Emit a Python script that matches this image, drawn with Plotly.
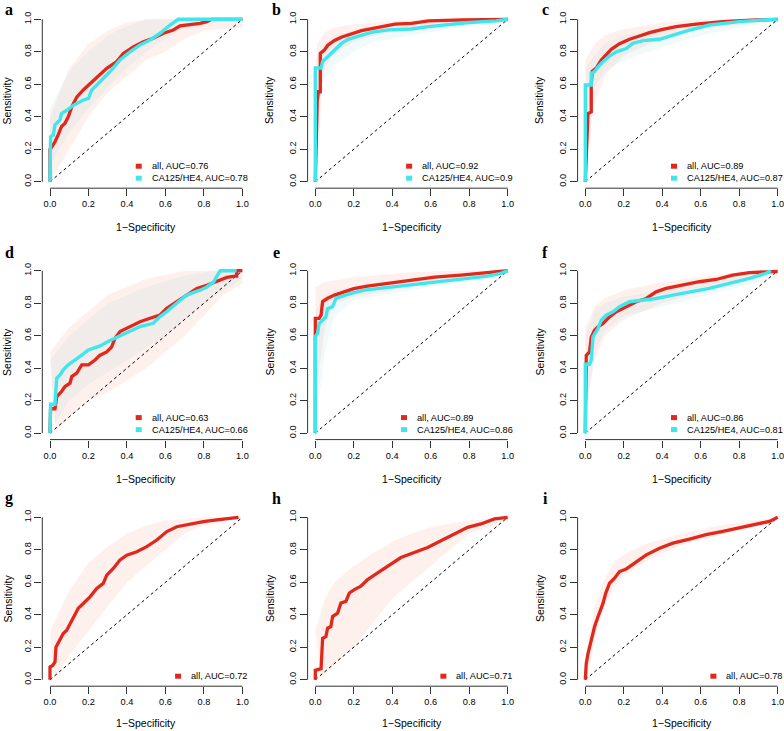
import plotly.graph_objects as go

# ---------------- data ----------------
panel_letters = ["a", "b", "c", "d", "e", "f", "g", "h", "i"]
x_tick_vals = [0, 0.2, 0.4, 0.6, 0.8, 1.0]
x_tick_text = ["0.0", "0.2", "0.4", "0.6", "0.8", "1.0"]
diag = [0, 1]

auc_all = [0.76, 0.92, 0.89, 0.63, 0.89, 0.86, 0.72, 0.71, 0.78]
auc_ca = [0.78, 0.9, 0.87, 0.66, 0.86, 0.81, None, None, None]

# main curves (1-specificity, sensitivity)
a_all_fpr = [0, 0, 0.01, 0.026, 0.043, 0.06, 0.078, 0.095, 0.113, 0.139, 0.173, 0.2, 0.243, 0.295, 0.347, 0.381, 0.433, 0.485, 0.537, 0.589, 0.641, 0.676, 0.78, 0.815, 0.84, 1.0]
a_all_tpr = [0, 0.2, 0.215, 0.246, 0.29, 0.34, 0.36, 0.4, 0.46, 0.52, 0.565, 0.595, 0.637, 0.698, 0.74, 0.79, 0.83, 0.862, 0.883, 0.914, 0.934, 0.959, 0.975, 0.986, 1.0, 1.0]
a_ca_fpr = [0, 0, 0.003, 0.017, 0.026, 0.052, 0.06, 0.087, 0.121, 0.173, 0.2, 0.217, 0.26, 0.312, 0.364, 0.416, 0.468, 0.52, 0.572, 0.624, 0.667, 1.0]
a_ca_tpr = [0, 0.154, 0.277, 0.287, 0.35, 0.38, 0.42, 0.44, 0.47, 0.503, 0.513, 0.565, 0.616, 0.678, 0.75, 0.8, 0.842, 0.873, 0.914, 0.965, 1.0, 1.0]

b_all_fpr = [0, 0.01, 0.016, 0.026, 0.026, 0.047, 0.065, 0.1, 0.135, 0.187, 0.24, 0.327, 0.414, 0.5, 0.589, 0.764, 0.9, 1.0]
b_all_tpr = [0, 0.5, 0.554, 0.554, 0.79, 0.81, 0.84, 0.87, 0.89, 0.91, 0.93, 0.95, 0.97, 0.975, 0.99, 0.996, 1.0, 1.0]
b_ca_fpr = [0, 0, 0.03, 0.038, 0.065, 0.1, 0.135, 0.17, 0.24, 0.29, 0.38, 0.5, 0.59, 0.694, 0.8, 0.94, 1.0]
b_ca_tpr = [0, 0.7, 0.7, 0.74, 0.77, 0.81, 0.85, 0.877, 0.9, 0.92, 0.935, 0.94, 0.955, 0.97, 0.98, 0.99, 1.0]

c_all_fpr = [0, 0.01, 0.014, 0.031, 0.031, 0.036, 0.057, 0.083, 0.109, 0.135, 0.178, 0.23, 0.282, 0.334, 0.403, 0.472, 0.576, 0.715, 0.888, 1.0]
c_all_tpr = [0, 0.4, 0.42, 0.43, 0.6, 0.68, 0.70, 0.75, 0.78, 0.815, 0.85, 0.877, 0.897, 0.918, 0.938, 0.955, 0.97, 0.986, 0.996, 1.0]
c_ca_fpr = [0, 0, 0.031, 0.031, 0.048, 0.066, 0.092, 0.126, 0.161, 0.213, 0.247, 0.3, 0.386, 0.455, 0.542, 0.645, 0.8, 0.922, 1.0]
c_ca_tpr = [0, 0.595, 0.595, 0.667, 0.678, 0.708, 0.739, 0.774, 0.8, 0.82, 0.852, 0.869, 0.877, 0.903, 0.934, 0.965, 0.986, 0.996, 1.0]

d_all_fpr = [0, 0.003, 0.026, 0.035, 0.06, 0.078, 0.104, 0.113, 0.139, 0.165, 0.2, 0.234, 0.26, 0.295, 0.32, 0.338, 0.364, 0.399, 0.433, 0.468, 0.52, 0.572, 0.607, 0.659, 0.71, 0.763, 0.815, 0.867, 0.919, 0.962, 0.97, 0.97, 1.0]
d_all_tpr = [0, 0.15, 0.15, 0.225, 0.256, 0.287, 0.307, 0.348, 0.369, 0.42, 0.42, 0.45, 0.48, 0.5, 0.53, 0.584, 0.625, 0.645, 0.666, 0.686, 0.707, 0.727, 0.768, 0.81, 0.85, 0.891, 0.91, 0.932, 0.959, 0.967, 0.967, 1.0, 1.0]
d_ca_fpr = [0, 0, 0.003, 0.026, 0.035, 0.052, 0.069, 0.095, 0.121, 0.165, 0.2, 0.26, 0.312, 0.399, 0.468, 0.537, 0.572, 0.607, 0.659, 0.71, 0.78, 0.815, 0.85, 0.884, 0.97]
d_ca_tpr = [0, 0.133, 0.178, 0.178, 0.338, 0.358, 0.389, 0.42, 0.44, 0.48, 0.512, 0.537, 0.57, 0.615, 0.656, 0.676, 0.717, 0.748, 0.8, 0.85, 0.88, 0.9, 0.93, 1.0, 1.0]

e_all_fpr = [0, 0, 0.02, 0.03, 0.038, 0.064, 0.1, 0.15, 0.2, 0.27, 0.376, 0.497, 0.62, 0.757, 0.896, 0.965, 1.0]
e_all_tpr = [0, 0.706, 0.706, 0.726, 0.81, 0.83, 0.85, 0.87, 0.89, 0.905, 0.922, 0.942, 0.96, 0.973, 0.988, 1.0, 1.0]
e_ca_fpr = [0, 0, 0.012, 0.02, 0.038, 0.055, 0.064, 0.09, 0.107, 0.133, 0.185, 0.255, 0.376, 0.497, 0.636, 0.757, 0.896, 0.965, 1.0]
e_ca_tpr = [0, 0.593, 0.613, 0.675, 0.695, 0.716, 0.767, 0.778, 0.829, 0.84, 0.86, 0.88, 0.897, 0.91, 0.932, 0.946, 0.967, 0.984, 1.0]

f_all_fpr = [0, 0.003, 0.005, 0.022, 0.031, 0.048, 0.066, 0.092, 0.126, 0.161, 0.213, 0.265, 0.317, 0.368, 0.42, 0.507, 0.593, 0.68, 0.766, 0.853, 0.922, 1.0]
f_all_tpr = [0, 0.45, 0.479, 0.5, 0.59, 0.634, 0.654, 0.675, 0.716, 0.747, 0.778, 0.809, 0.829, 0.87, 0.891, 0.912, 0.932, 0.946, 0.973, 0.988, 0.994, 0.996]
f_ca_fpr = [0, 0, 0.022, 0.031, 0.04, 0.057, 0.066, 0.083, 0.109, 0.144, 0.178, 0.23, 0.3, 0.368, 0.455, 0.542, 0.645, 0.749, 0.853, 0.939, 0.965]
f_ca_tpr = [0, 0.424, 0.424, 0.449, 0.593, 0.623, 0.644, 0.695, 0.726, 0.747, 0.778, 0.809, 0.819, 0.829, 0.85, 0.87, 0.891, 0.922, 0.953, 0.984, 1.0]

g_all_fpr = [0, 0, 0.014, 0.026, 0.031, 0.052, 0.069, 0.087, 0.104, 0.121, 0.147, 0.173, 0.208, 0.243, 0.277, 0.295, 0.329, 0.364, 0.399, 0.451, 0.503, 0.555, 0.607, 0.659, 0.728, 0.797, 0.867, 0.953, 0.98]
g_all_tpr = [0, 0.078, 0.088, 0.109, 0.2, 0.243, 0.284, 0.305, 0.346, 0.377, 0.44, 0.469, 0.51, 0.562, 0.593, 0.644, 0.685, 0.737, 0.767, 0.788, 0.819, 0.86, 0.912, 0.942, 0.959, 0.973, 0.984, 0.998, 1.0]

h_all_fpr = [0, 0, 0.012, 0.03, 0.038, 0.055, 0.064, 0.081, 0.09, 0.116, 0.133, 0.159, 0.177, 0.203, 0.237, 0.272, 0.324, 0.376, 0.445, 0.514, 0.584, 0.653, 0.723, 0.792, 0.861, 0.931, 1.0]
h_all_tpr = [0, 0.058, 0.062, 0.068, 0.255, 0.265, 0.317, 0.327, 0.389, 0.41, 0.472, 0.482, 0.534, 0.555, 0.576, 0.617, 0.658, 0.7, 0.752, 0.783, 0.814, 0.855, 0.897, 0.938, 0.959, 0.99, 1.0]

i_all_fpr = [0, 0.005, 0.014, 0.031, 0.048, 0.066, 0.092, 0.106, 0.126, 0.152, 0.178, 0.213, 0.265, 0.317, 0.386, 0.455, 0.542, 0.628, 0.715, 0.801, 0.888, 0.957, 1.0]
i_all_tpr = [0, 0.1, 0.16, 0.243, 0.326, 0.388, 0.47, 0.532, 0.594, 0.625, 0.666, 0.682, 0.728, 0.769, 0.81, 0.841, 0.866, 0.893, 0.913, 0.934, 0.955, 0.975, 1.0]

# spread of the resampled curves (upper / lower envelopes)
a_all_up_x = [0, 0.1, 0.2, 0.3, 0.4, 0.5, 1.0]
a_all_up_y = [0.4, 0.7, 0.85, 0.93, 0.98, 1.0, 1.0]
a_all_lo_x = [0.0, 0.1, 0.2, 0.3, 0.4, 0.5, 0.6, 0.7, 0.8, 1.0]
a_all_lo_y = [0.0, 0.2, 0.4, 0.55, 0.65, 0.75, 0.8, 0.88, 0.93, 0.95]
a_ca_up_x = [0, 0.1, 0.2, 0.3, 0.4, 0.5, 1.0]
a_ca_up_y = [0.45, 0.68, 0.8, 0.9, 0.96, 1.0, 1.0]
a_ca_lo_x = [0, 0.1, 0.2, 0.3, 0.4, 0.5, 0.6, 0.7, 1.0]
a_ca_lo_y = [0.1, 0.3, 0.45, 0.58, 0.7, 0.8, 0.88, 0.95, 1.0]

b_all_up_x = [0, 0.01, 0.05, 0.1, 0.2, 0.4, 0.6, 1.0]
b_all_up_y = [0.6, 0.85, 0.92, 0.95, 0.97, 0.99, 1.0, 1.0]
b_all_lo_x = [0.02, 0.03, 0.05, 0.1, 0.2, 0.3, 0.5, 0.7, 1.0]
b_all_lo_y = [0.2, 0.55, 0.7, 0.8, 0.86, 0.9, 0.94, 0.97, 1.0]
b_ca_up_x = [0, 0.05, 0.1, 0.2, 0.4, 0.6, 1.0]
b_ca_up_y = [0.75, 0.85, 0.9, 0.93, 0.96, 0.98, 1.0]
b_ca_lo_x = [0.01, 0.03, 0.1, 0.2, 0.3, 0.5, 0.7, 1.0]
b_ca_lo_y = [0.3, 0.6, 0.72, 0.8, 0.86, 0.9, 0.94, 0.98]

c_all_up_x = [0, 0.05, 0.1, 0.2, 0.4, 0.6, 1.0]
c_all_up_y = [0.75, 0.85, 0.9, 0.94, 0.98, 1.0, 1.0]
c_all_lo_x = [0.02, 0.04, 0.1, 0.2, 0.4, 0.6, 1.0]
c_all_lo_y = [0.2, 0.45, 0.65, 0.78, 0.88, 0.94, 0.99]
c_ca_up_x = [0, 0.05, 0.1, 0.2, 0.4, 0.6, 0.8, 1.0]
c_ca_up_y = [0.7, 0.78, 0.85, 0.9, 0.95, 0.98, 1.0, 1.0]
c_ca_lo_x = [0.01, 0.03, 0.1, 0.2, 0.4, 0.6, 0.8, 1.0]
c_ca_lo_y = [0.3, 0.55, 0.68, 0.75, 0.83, 0.9, 0.95, 0.98]

d_all_up_x = [0, 0.1, 0.2, 0.3, 0.5, 0.7, 1.0]
d_all_up_y = [0.5, 0.65, 0.75, 0.85, 0.95, 1.0, 1.0]
d_all_lo_x = [0.03, 0.1, 0.2, 0.3, 0.5, 0.7, 0.9, 1.0]
d_all_lo_y = [0.0, 0.1, 0.2, 0.25, 0.4, 0.6, 0.85, 0.92]
d_ca_up_x = [0, 0.1, 0.2, 0.3, 0.5, 0.7, 0.85, 1.0]
d_ca_up_y = [0.45, 0.6, 0.7, 0.8, 0.9, 0.97, 1.0, 1.0]
d_ca_lo_x = [0.02, 0.1, 0.2, 0.4, 0.6, 0.8, 1.0]
d_ca_lo_y = [0.05, 0.2, 0.3, 0.45, 0.6, 0.8, 0.95]

e_all_up_x = [0, 0.05, 0.2, 0.5, 0.7, 1.0]
e_all_up_y = [0.9, 0.93, 0.96, 0.99, 1.0, 1.0]
e_all_lo_x = [0.01, 0.05, 0.1, 0.2, 0.4, 0.6, 1.0]
e_all_lo_y = [0.3, 0.65, 0.8, 0.84, 0.88, 0.92, 0.98]
e_ca_up_x = [0, 0.05, 0.1, 0.3, 0.6, 1.0]
e_ca_up_y = [0.75, 0.85, 0.88, 0.92, 0.96, 1.0]
e_ca_lo_x = [0.02, 0.05, 0.1, 0.2, 0.4, 0.6, 0.8, 1.0]
e_ca_lo_y = [0.2, 0.5, 0.72, 0.82, 0.86, 0.9, 0.93, 0.97]

f_all_up_x = [0, 0.05, 0.1, 0.2, 0.4, 0.6, 0.8, 1.0]
f_all_up_y = [0.65, 0.78, 0.83, 0.88, 0.93, 0.96, 0.99, 1.0]
f_all_lo_x = [0.01, 0.05, 0.1, 0.2, 0.4, 0.6, 0.8, 1.0]
f_all_lo_y = [0.2, 0.45, 0.6, 0.7, 0.8, 0.87, 0.93, 0.98]
f_ca_up_x = [0, 0.05, 0.1, 0.2, 0.4, 0.6, 0.8, 1.0]
f_ca_up_y = [0.6, 0.75, 0.8, 0.84, 0.88, 0.92, 0.96, 1.0]
f_ca_lo_x = [0.01, 0.05, 0.1, 0.2, 0.4, 0.6, 0.8, 1.0]
f_ca_lo_y = [0.2, 0.5, 0.63, 0.72, 0.78, 0.84, 0.9, 0.96]

g_all_up_x = [0, 0.1, 0.2, 0.3, 0.4, 0.5, 0.6, 0.8, 1.0]
g_all_up_y = [0.3, 0.55, 0.72, 0.82, 0.9, 0.95, 0.98, 1.0, 1.0]
g_all_lo_x = [0.02, 0.1, 0.2, 0.3, 0.4, 0.5, 0.6, 0.7, 0.8, 1.0]
g_all_lo_y = [0.0, 0.15, 0.3, 0.45, 0.6, 0.7, 0.8, 0.9, 0.95, 1.0]

h_all_up_x = [0, 0.05, 0.1, 0.2, 0.3, 0.4, 0.5, 0.6, 0.8, 1.0]
h_all_up_y = [0.3, 0.5, 0.6, 0.7, 0.78, 0.85, 0.9, 0.94, 0.98, 1.0]
h_all_lo_x = [0.03, 0.1, 0.2, 0.3, 0.4, 0.5, 0.6, 0.7, 0.8, 1.0]
h_all_lo_y = [0.0, 0.1, 0.2, 0.35, 0.5, 0.6, 0.7, 0.8, 0.9, 0.98]

i_all_up_x = [0, 0.05, 0.1, 0.15, 0.2, 0.3, 0.5, 0.7, 1.0]
i_all_up_y = [0.15, 0.45, 0.62, 0.72, 0.77, 0.83, 0.9, 0.95, 1.0]
i_all_lo_x = [0.01, 0.05, 0.1, 0.15, 0.2, 0.3, 0.5, 0.7, 0.9, 1.0]
i_all_lo_y = [0.0, 0.25, 0.45, 0.57, 0.64, 0.72, 0.83, 0.89, 0.95, 0.99]

all_curves = [(a_all_fpr, a_all_tpr), (b_all_fpr, b_all_tpr), (c_all_fpr, c_all_tpr),
              (d_all_fpr, d_all_tpr), (e_all_fpr, e_all_tpr), (f_all_fpr, f_all_tpr),
              (g_all_fpr, g_all_tpr), (h_all_fpr, h_all_tpr), (i_all_fpr, i_all_tpr)]
ca_curves = [(a_ca_fpr, a_ca_tpr), (b_ca_fpr, b_ca_tpr), (c_ca_fpr, c_ca_tpr),
             (d_ca_fpr, d_ca_tpr), (e_ca_fpr, e_ca_tpr), (f_ca_fpr, f_ca_tpr),
             None, None, None]
all_bands = [(a_all_up_x, a_all_up_y, a_all_lo_x, a_all_lo_y), (b_all_up_x, b_all_up_y, b_all_lo_x, b_all_lo_y),
             (c_all_up_x, c_all_up_y, c_all_lo_x, c_all_lo_y), (d_all_up_x, d_all_up_y, d_all_lo_x, d_all_lo_y),
             (e_all_up_x, e_all_up_y, e_all_lo_x, e_all_lo_y), (f_all_up_x, f_all_up_y, f_all_lo_x, f_all_lo_y),
             (g_all_up_x, g_all_up_y, g_all_lo_x, g_all_lo_y), (h_all_up_x, h_all_up_y, h_all_lo_x, h_all_lo_y),
             (i_all_up_x, i_all_up_y, i_all_lo_x, i_all_lo_y)]
ca_bands = [(a_ca_up_x, a_ca_up_y, a_ca_lo_x, a_ca_lo_y), (b_ca_up_x, b_ca_up_y, b_ca_lo_x, b_ca_lo_y),
            (c_ca_up_x, c_ca_up_y, c_ca_lo_x, c_ca_lo_y), (d_ca_up_x, d_ca_up_y, d_ca_lo_x, d_ca_lo_y),
            (e_ca_up_x, e_ca_up_y, e_ca_lo_x, e_ca_lo_y), (f_ca_up_x, f_ca_up_y, f_ca_lo_x, f_ca_lo_y),
            None, None, None]

# ---------------- styling / layout ----------------
W, H = 784, 731
RED = "#e0281c"
CYAN = "#3fe6ec"
RED_BAND = "rgba(242,125,95,0.11)"
CYAN_BAND = "rgba(125,195,205,0.10)"
FONT = "Liberation Sans, Arial, Helvetica, sans-serif"
TICK_SIZE = 9.2
TITLE_SIZE = 10.5
LEG_SIZE = 9.2
UX, UY = 192.4, 162.4
col_x0 = [50.0, 315.3, 585.3]      # pixel of x=0
row_y1 = [19.3, 270.7, 517.3]      # pixel of y=1
title_gap = [39, 39, 37]
letter_x = [9, 276, 545]
letter_y = [10, 252, 498]

AW = {'a': 556, 'l': 222, ',': 278, ' ': 278, 'A': 667, 'U': 722, 'C': 722, '=': 584,
      '.': 278, '/': 278, 'H': 722, 'E': 667}


def text_w(s, size):
    return sum(AW.get(ch, 556) for ch in s) * size / 1000.0


def px2fx(px):
    return px / W


def py2fy(py):
    return 1 - py / H


fig = go.Figure()
shapes = []
annotations = []

for k in range(9):
    r, c = divmod(k, 3)
    n = "" if k == 0 else str(k + 1)
    xa, ya = "x" + n, "y" + n
    x0 = col_x0[c]
    y1 = row_y1[r]
    left = x0 - 0.04 * UX
    right_full = x0 + 1.04 * UX
    right = min(right_full, W)
    top = y1 - 0.04 * UY
    bottom = y1 + 1.04 * UY

    fig.update_layout(**{
        ("xaxis" + n): dict(domain=[px2fx(left), px2fx(right)],
                            range=[(left - x0) / UX, (right - x0) / UX],
                            anchor=ya, tickvals=x_tick_vals, ticktext=x_tick_text,
                            ticks="outside", ticklen=7, tickwidth=1, tickcolor="#333",
                            showline=False, showgrid=False, zeroline=False,
                            ticklabeloverflow="allow",
                            tickfont=dict(family=FONT, size=TICK_SIZE, color="black")),
        ("yaxis" + n): dict(domain=[py2fy(bottom), py2fy(top)],
                            range=[-0.04, 1.04], anchor=xa,
                            tickvals=x_tick_vals, ticktext=x_tick_text, tickangle=-90,
                            ticks="outside", ticklen=7, tickwidth=1, tickcolor="#333",
                            showline=False, showgrid=False, zeroline=False,
                            ticklabeloverflow="allow",
                            tickfont=dict(family=FONT, size=TICK_SIZE, color="black")),
    })

    # resampled spread
    bands = [(all_bands[k], RED_BAND)]
    if ca_bands[k] is not None:
        bands.append((ca_bands[k], CYAN_BAND))
    for (ux, uy, lx, ly), colr in bands:
        fig.add_trace(go.Scatter(x=list(ux) + list(lx)[::-1], y=list(uy) + list(ly)[::-1],
                                 mode="lines", fill="toself", fillcolor=colr,
                                 line=dict(width=0), hoverinfo="skip",
                                 xaxis=xa, yaxis=ya, showlegend=False))
    # chance line
    fig.add_trace(go.Scatter(x=diag, y=diag, mode="lines",
                             line=dict(color="black", width=1, dash="3px,3px"),
                             xaxis=xa, yaxis=ya, showlegend=False, hoverinfo="skip"))
    # main curves
    fx, fy = all_curves[k]
    fig.add_trace(go.Scatter(x=fx, y=fy, mode="lines", line=dict(color=RED, width=3.3),
                             xaxis=xa, yaxis=ya, showlegend=False, name="all"))
    if ca_curves[k] is not None:
        cx, cy = ca_curves[k]
        fig.add_trace(go.Scatter(x=cx, y=cy, mode="lines", line=dict(color=CYAN, width=3.4),
                                 xaxis=xa, yaxis=ya, showlegend=False, name="CA125/HE4"))

    # R-style axis lines (only from 0 to 1)
    shapes.append(dict(type="line", xref=xa, yref=ya + " domain", x0=0, x1=1, y0=0, y1=0,
                       line=dict(color="#333", width=1)))
    shapes.append(dict(type="line", xref=xa + " domain", yref=ya, x0=0, x1=0, y0=0, y1=1,
                       line=dict(color="#333", width=1)))

    # axis titles
    annotations.append(dict(x=px2fx(x0 + 0.5 * UX), y=py2fy(bottom + title_gap[r]), xref="paper", yref="paper",
                            text="1\u2212Specificity", showarrow=False, xanchor="center", yanchor="middle",
                            font=dict(family=FONT, size=TITLE_SIZE, color="black")))
    annotations.append(dict(x=px2fx(max(left - 38, 7)), y=py2fy(y1 + 0.5 * UY), xref="paper", yref="paper",
                            text="Sensitivity", showarrow=False, textangle=-90,
                            xanchor="center", yanchor="middle",
                            font=dict(family=FONT, size=TITLE_SIZE, color="black")))
    # panel letter
    annotations.append(dict(x=px2fx(letter_x[c]), y=py2fy(letter_y[r]), xref="paper", yref="paper",
                            text="<b>" + panel_letters[k] + "</b>", showarrow=False,
                            xanchor="center", yanchor="middle",
                            font=dict(family="Liberation Serif, Times New Roman, serif", size=16, color="black")))

    # legend (bottom right, no box)
    labels = ["all, AUC=%s" % auc_all[k]]
    colors = [RED]
    if auc_ca[k] is not None:
        labels.append("CA125/HE4, AUC=%s" % auc_ca[k])
        colors.append(CYAN)
    maxw = max(text_w(s, LEG_SIZE) for s in labels)
    tx = right_full - maxw - 4
    nrow = len(labels)
    for j, (lab, colr) in enumerate(zip(labels, colors)):
        yc = bottom - 10 - 12 * (nrow - 1 - j)
        annotations.append(dict(x=px2fx(tx), y=py2fy(yc), xref="paper", yref="paper", text=lab,
                                showarrow=False, xanchor="left", yanchor="middle",
                                font=dict(family=FONT, size=LEG_SIZE, color="black")))
        sx = tx - 11
        shapes.append(dict(type="rect", xref="paper", yref="paper",
                           x0=px2fx(sx - 3), x1=px2fx(sx + 3), y0=py2fy(yc + 2.5), y1=py2fy(yc - 2.5),
                           fillcolor=colr, line=dict(width=0)))

fig.update_layout(width=W, height=H, margin=dict(l=0, r=0, t=0, b=0),
                  paper_bgcolor="white", plot_bgcolor="white", showlegend=False,
                  shapes=shapes, annotations=annotations)
fig.write_html("out.html", config={"displayModeBar": False},
               post_script="document.body.style.margin='0';document.body.style.overflow='hidden';")
